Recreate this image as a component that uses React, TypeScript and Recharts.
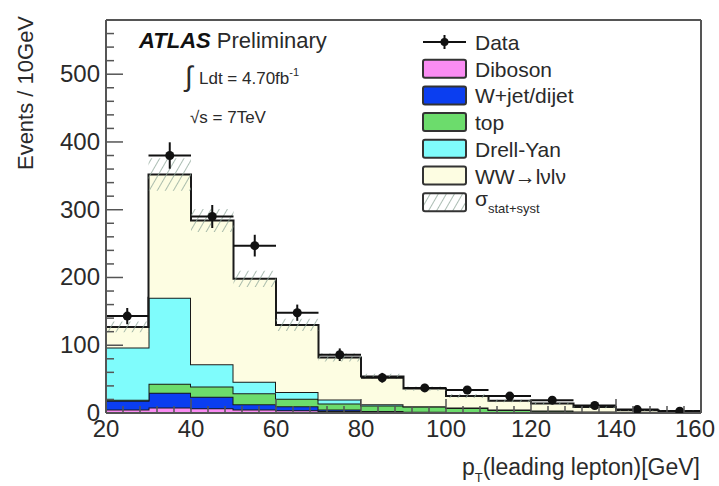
import { ComposedChart, Area, Scatter, ErrorBar, XAxis, YAxis } from 'recharts';

// bin edges in GeV (10 GeV bins)
const binEdges = [20, 30, 40, 50, 60, 70, 80, 90, 100, 110, 120, 130, 140, 150, 160];

// stacked backgrounds, bottom to top
const diboson = [5, 8, 7, 5, 4, 3, 1.5, 1, 1, 0.5, 0.5, 0.3, 0.2, 0.1];
const wjet = [13, 22, 17, 8, 6, 2, 1.5, 1, 0.5, 0.5, 0.3, 0.2, 0.1, 0.1];
const topQuark = [1.5, 13, 15, 16, 11, 9, 8, 7.5, 6, 3.5, 2.5, 1.5, 1, 0.6];
const drellYan = [77, 127, 33, 17, 10, 6, 2, 0.5, 0.5, 0.5, 0.5, 0.3, 0.2, 0.1];
const wwSignal = [30.5, 182, 212, 152, 99, 62, 41, 26, 17, 13, 10.2, 6.7, 2.5, 2.1];
const mcUncertainty = [8, 24, 17, 12, 9, 6, 4, 3, 3, 2, 2, 2, 1, 1];

// observed data
const dataCounts = [143, 380, 290, 247, 148, 86, 52, 37, 34, 25, 19, 11, 5, 2.5];
const dataErrors = [12, 19.5, 17, 16, 12, 9.3, 7.2, 6, 5.8, 5, 4.4, 3.3, 2.2, 1.6];

const yMajorTicks = [0, 100, 200, 300, 400, 500];
const xMajorTicks = [20, 40, 60, 80, 100, 120, 140, 160];
const yTicks = Array.from({ length: 30 }, (_, i) => i * 20);
const xTicks = Array.from({ length: 36 }, (_, i) => 20 + i * 4);

const lastBin = dataCounts.length - 1;
const histRows = binEdges.map((x, i) => {
  const k = Math.min(i, lastBin);
  const total = diboson[k] + wjet[k] + topQuark[k] + drellYan[k] + wwSignal[k];
  return {
    x,
    diboson: diboson[k],
    wjet: wjet[k],
    top: topQuark[k],
    dy: drellYan[k],
    ww: wwSignal[k],
    band: [total - mcUncertainty[k], total + mcUncertainty[k]],
  };
});

const dataPoints = dataCounts.map((y, i) => ({
  x: binEdges[i] + 5,
  y,
  err: dataErrors[i],
  xerr: 5,
}));

const FONT = '"Liberation Sans", Arial, Helvetica, sans-serif';
const TEXT = '#2a2a2a';
const AXIS = '#555';
const M = 6;

const LeftTick = (props: any) => {
  const { x, y, payload } = props;
  const major = yMajorTicks.includes(payload.value);
  const ax = x + M;
  return (
    <g>
      <line x1={ax} x2={ax + (major ? 17 : 8)} y1={y} y2={y} stroke={AXIS} strokeWidth={1.5} />
      {major && (
        <text x={x} y={y + 8} textAnchor="end" fontSize={24} fill={TEXT} fontFamily={FONT}>
          {payload.value}
        </text>
      )}
    </g>
  );
};

const RightTick = (props: any) => {
  const { x, y, payload } = props;
  const major = yMajorTicks.includes(payload.value);
  const ax = x - M;
  return <line x1={ax} x2={ax - (major ? 17 : 8)} y1={y} y2={y} stroke={AXIS} strokeWidth={1.5} />;
};

const BottomTick = (props: any) => {
  const { x, y, payload } = props;
  const major = xMajorTicks.includes(payload.value);
  const ay = y - M;
  const last = payload.value === xMajorTicks[xMajorTicks.length - 1];
  return (
    <g>
      <line x1={x} x2={x} y1={ay} y2={ay - (major ? 14 : 7)} stroke={AXIS} strokeWidth={1.5} />
      {major && (
        <text x={last ? x - 6 : x} y={y + 18} textAnchor="middle" fontSize={24} fill={TEXT} fontFamily={FONT}>
          {payload.value}
        </text>
      )}
    </g>
  );
};

const TopTick = (props: any) => {
  const { x, y, payload } = props;
  const major = xMajorTicks.includes(payload.value);
  const ay = y + M;
  return <line x1={x} x2={x} y1={ay} y2={ay + (major ? 14 : 7)} stroke={AXIS} strokeWidth={1.5} />;
};

const legendItems = [
  { label: 'Diboson', fill: '#fa8cf3' },
  { label: 'W+jet/dijet', fill: '#0b3ef0' },
  { label: 'top', fill: '#6cdc6c' },
  { label: 'Drell-Yan', fill: '#7ffcfc' },
  { label: 'WW\u2192l\u03bdl\u03bd', fill: '#fdfde2' },
];

function Overlay() {
  const rowY = (i: number) => 42 + i * 26.7;
  return (
    <svg width={719} height={486} style={{ position: 'absolute', left: 0, top: 0, pointerEvents: 'none' }}>
      <defs>
        <pattern id="legendHatch" width="7" height="7" patternUnits="userSpaceOnUse" patternTransform="rotate(30)">
          <line x1="0" y1="0" x2="0" y2="7" stroke="#8fa79a" strokeWidth="1.5" />
        </pattern>
      </defs>
      <g fontFamily={FONT} fill={TEXT}>
        <text x={139} y={48} fontSize={22}>
          <tspan fontWeight="bold" fontStyle="italic" fill="#111">ATLAS</tspan>
          <tspan> Preliminary</tspan>
        </text>
        <text x={185} y={86} fontSize={28} fontWeight="200">{'\u222b'}</text>
        <text x={199} y={84} fontSize={17}>
          Ldt = 4.70fb<tspan fontSize={11} dy={-8}>-1</tspan>
        </text>
        <text x={190} y={123} fontSize={17}>{'\u221as = 7TeV'}</text>

        <text
          transform="translate(33,93) rotate(-90)"
          textAnchor="middle"
          fontSize={22}
        >
          Events / 10GeV
        </text>
        <text x={700} y={475} textAnchor="end" fontSize={23}>
          p<tspan fontSize={13} dy={7}>T</tspan>
          <tspan dy={-7}>(leading lepton)[GeV]</tspan>
        </text>

        {/* legend */}
        <line x1={423} x2={466} y1={rowY(0)} y2={rowY(0)} stroke="#111" strokeWidth={2} />
        <line x1={444.5} x2={444.5} y1={rowY(0) - 7} y2={rowY(0) + 7} stroke="#111" strokeWidth={2} />
        <circle cx={444.5} cy={rowY(0)} r={4} fill="#111" />
        <text x={475} y={rowY(0) + 8} fontSize={21}>Data</text>
        {legendItems.map((it, i) => (
          <g key={it.label}>
            <rect x={423} y={rowY(i + 1) - 9} width={43} height={18} rx={2} fill={it.fill} stroke="#333" strokeWidth={2} />
            <text x={475} y={rowY(i + 1) + 8} fontSize={21}>{it.label}</text>
          </g>
        ))}
        <rect x={423} y={rowY(6) - 9} width={43} height={18} rx={2} fill="url(#legendHatch)" stroke="#333" strokeWidth={2} />
        <text x={475} y={rowY(6) + 4} fontSize={21}>
          {'\u03c3'}<tspan fontSize={13} dy={7}>stat+syst</tspan>
        </text>
      </g>
    </svg>
  );
}

export default function App() {
  return (
    <div style={{ position: 'absolute', left: 0, top: 0, width: 719, height: 486, background: '#fff' }}>
      <ComposedChart
        width={719}
        height={486}
        data={histRows}
        margin={{ top: 19, right: 17, bottom: 0, left: 46 }}
      >
        <defs>
          <pattern id="hatch" width="7" height="7" patternUnits="userSpaceOnUse" patternTransform="rotate(30)">
            <line x1="0" y1="0" x2="0" y2="7" stroke="#8fa79a" strokeWidth="1.5" />
          </pattern>
        </defs>
        <Area type="stepAfter" dataKey="diboson" stackId="mc" fill="#fa8cf3" fillOpacity={1} stroke="#1a1a1a" strokeWidth={2} isAnimationActive={false} />
        <Area type="stepAfter" dataKey="wjet" stackId="mc" fill="#0b3ef0" fillOpacity={1} stroke="#1a1a1a" strokeWidth={2} isAnimationActive={false} />
        <Area type="stepAfter" dataKey="top" stackId="mc" fill="#6cdc6c" fillOpacity={1} stroke="#1a1a1a" strokeWidth={2} isAnimationActive={false} />
        <Area type="stepAfter" dataKey="dy" stackId="mc" fill="#7ffcfc" fillOpacity={1} stroke="#1a1a1a" strokeWidth={2} isAnimationActive={false} />
        <Area type="stepAfter" dataKey="ww" stackId="mc" fill="#fdfde2" fillOpacity={1} stroke="#1a1a1a" strokeWidth={2} isAnimationActive={false} />
        <Area type="stepAfter" dataKey="band" fill="url(#hatch)" fillOpacity={1} stroke="none" isAnimationActive={false} />
        <Scatter
          data={dataPoints}
          dataKey="y"
          fill="#111"
          shape={(p: any) => <circle cx={p.cx} cy={p.cy} r={4.5} fill="#111" />}
          isAnimationActive={false}
        >
          <ErrorBar dataKey="err" direction="y" width={0} stroke="#111" strokeWidth={2} isAnimationActive={false} />
          <ErrorBar dataKey="xerr" direction="x" width={0} stroke="#111" strokeWidth={2} isAnimationActive={false} />
        </Scatter>

        <XAxis
          dataKey="x"
          type="number"
          domain={[20, 160]}
          ticks={xTicks}
          interval={0}
          height={73}
          tickSize={0}
          tickMargin={M}
          tickLine={false}
          axisLine={{ stroke: AXIS, strokeWidth: 2 }}
          tick={<BottomTick />}
          allowDataOverflow
        />
        <XAxis
          xAxisId="top"
          orientation="top"
          type="number"
          domain={[20, 160]}
          ticks={xTicks}
          interval={0}
          height={1}
          tickSize={0}
          tickMargin={M}
          tickLine={false}
          axisLine={{ stroke: AXIS, strokeWidth: 2 }}
          tick={<TopTick />}
        />
        <YAxis
          type="number"
          domain={[0, 580]}
          ticks={yTicks}
          interval={0}
          width={60}
          tickSize={0}
          tickMargin={M}
          tickLine={false}
          axisLine={{ stroke: AXIS, strokeWidth: 2 }}
          tick={<LeftTick />}
          allowDataOverflow
        />
        <YAxis
          yAxisId="right"
          orientation="right"
          type="number"
          domain={[0, 580]}
          ticks={yTicks}
          interval={0}
          width={1}
          tickSize={0}
          tickMargin={M}
          tickLine={false}
          axisLine={{ stroke: AXIS, strokeWidth: 2 }}
          tick={<RightTick />}
        />
      </ComposedChart>
      <Overlay />
    </div>
  );
}
